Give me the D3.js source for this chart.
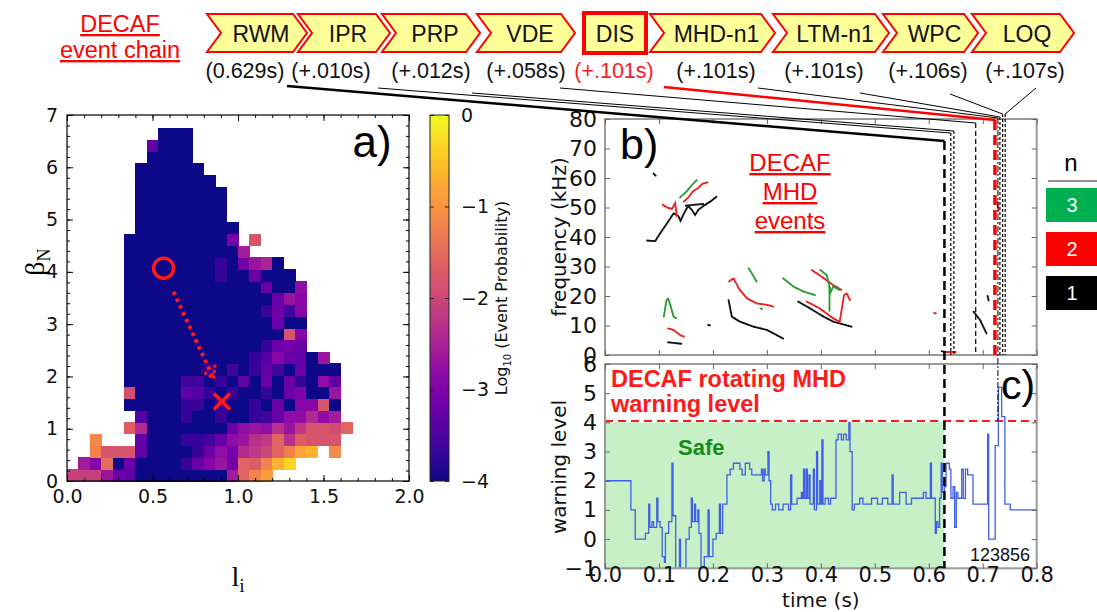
<!DOCTYPE html>
<html><head><meta charset="utf-8">
<script src="https://cdn.jsdelivr.net/npm/d3@7"></script>
<style>body{margin:0;background:#fff}svg{display:block}</style>
</head><body>
<svg id="c" width="1097" height="612"></svg>
<script>
// ======================= DATA =======================
const chainEvents = ["RWM","IPR","PRP","VDE","DIS","MHD-n1","LTM-n1","WPC","LOQ"];
const chainLabels = ["(0.629s)","(+.010s)","(+.012s)","(+.058s)","(+.101s)","(+.101s)","(+.101s)","(+.106s)","(+.107s)"];
const chainTimes  = [0.629,0.639,0.641,0.687,0.730,0.730,0.730,0.735,0.736];

const liTicks   = [0.0,0.5,1.0,1.5,2.0];
const betaTicks = [0,1,2,3,4,5,6,7];
const cbTicks   = [0,-1,-2,-3,-4];
const liBin = 1/15, betaBin = 0.225;
// log10(event probability) per (beta_N row, l_i column); row 0 = bottom. [firstColumn, values]
const heatRows = [
 [0,[-2.1,-2.1,-2.1,-2.7,-3.2,-3.3,-4,-4,-4,-4,-4,-4,-4,-4,-2.6,-1.6,-1.2,-0.9]],
 [1,[-2.6,-2.9,-1.5,-4,-3.2,-4,-4,-4,-4,-3.7,-3.2,-2.9,-2.7,-3.1,-1.6,-1.7,-1.2,-0.7,-0.35]],
 [2,[-1.2,-1.8,-1.8,-1.8,-3.3,-4,-4,-4,-4,-3.7,-3.2,-2.8,-3.1,-2.4,-2.2,-2.0,-1.6,-1.25,-0.85,-0.7,null,-1.1]],
 [2,[-1.15,null,null,null,-3.3,-4,-4,-4,-3.7,-3.7,-3.6,-3.2,-2.8,-2.7,-2.3,-2.2,-1.6,-2.3,-1.7,-1.8,-1.8,-1.8]],
 [5,[-1.7,-2.4,-4,-4,-4,-4,-4,-4,-4,-3.2,-2.8,-2.7,-2.8,-2.3,-2.7,-2.2,-1.8,-1.8,-1.9,-1.6]],
 [6,[-3.4,-4,-4,-4,-3.7,-4,-4,-3.7,-4,-4,-3.7,-3.6,-3.2,-2.8,-2.8,-2.4,-2.8,-2.6]],
 [5,[-4,-4,-4,-4,-4,-3.7,-3.7,-4,-3.7,-4,-4,-3.7,-4,-3.2,-4,-2.9,-2.9,-1.8,-4]],
 [5,[-1.9,-4,-4,-4,-4,-3.3,-3.4,-3.7,-4,-3.7,-4,-4,-3.7,-4,-3.2,-3.0,-4,-4,-2.7]],
 [5,[-4,-4,-4,-4,-4,-3.6,-3.6,-4,-3.7,-4,-3.3,-4,-3.2,-4,-3.2,-3.7,-4,-2.8,-3.3]],
 [5,[-4,-4,-4,-4,-4,-4,-4,-3.7,-4,-3.6,-4,-3.7,-3.3,-3.6,-4,-3.2,-4,-4,-4]],
 [5,[-4,-4,-4,-4,-4,-4,-4,-4,-4,-4,-4,-3.7,-3.4,-2.9,-3.2,-3.3,-4,-2.7]],
 [5,[-4,-4,-4,-4,-4,-4,-4,-4,-4,-4,-4,-4,-3.7,-3.2,-3.1,-3.2]],
 [5,[-4,-4,-4,-4,-4,-4,-4,-4,-4,-4,-4,-4,-4,-4,-1.8,-2.9]],
 [5,[-4,-4,-4,-4,-4,-4,-4,-4,-4,-4,-4,-4,-4,-3.2,-4,-4]],
 [5,[-4,-4,-4,-4,-4,-4,-4,-4,-4,-4,-4,-4,-3.7,-3.1,-3.6,-2.9]],
 [5,[-4,-4,-4,-4,-4,-4,-4,-4,-4,-4,-4,-4,-4,-3.2,-2.7,-2.9]],
 [5,[-4,-4,-4,-4,-4,-4,-4,-4,-4,-4,-4,-4,-3.2,-4,-4,-2.8]],
 [5,[-4,-4,-4,-4,-4,-4,-4,-4,-3.7,-4,-4,-3.2,-4,-4,-4]],
 [5,[-4,-4,-4,-4,-4,-4,-4,-4,-3.7,-4,-3.1,-2.7,-2.5,-4]],
 [5,[-4,-4,-4,-4,-4,-4,-4,-4,-4,-4,-2.6]],
 [5,[-4,-4,-4,-4,-4,-4,-4,-4,-4,-3.1,null,-1.8]],
 [6,[-4,-4,-4,-4,-4,-4,-4,-4,-4]],
 [6,[-4,-4,-4,-4,-4,-4,-4,-4]],
 [6,[-4,-4,-4,-4,-4,-4,-4,-4]],
 [6,[-4,-4,-4,-4,-4,-4,-4,-4]],
 [6,[-4,-4,-4,-4,-4,-4,-4]],
 [6,[-4,-4,-4,-4,-4,-4]],
 [7,[-4,-4,-4,-4]],
 [7,[-3.3,-4,-4,-4]],
 [8,[-4,-4,-4]]
];
const trajStart = [0.565,4.07], trajEnd = [0.906,1.52];
const arrowFrom = [0.623,3.62], arrowTo = [0.857,1.96];

const timeTicks = [0.0,0.1,0.2,0.3,0.4,0.5,0.6,0.7,0.8];
const freqTicks = [0,10,20,30,40,50,60,70,80];
const warnTicks = [-1,0,1,2,3,4,5,6];
const modeNumbers = ["3","2","1"];
// MHD mode traces [time s, frequency kHz]
const modeN1 = [
 [[0.078,38.8],[0.093,38.6],[0.102,41.2],[0.117,45.2],[0.127,48.0],[0.136,47.1],[0.140,45.5],[0.148,48.6],[0.154,50.5],[0.161,49.2],[0.167,47.5],[0.173,49.2],[0.182,50.5],[0.195,52.0],[0.207,53.7]],
 [[0.150,50.6],[0.165,50.9],[0.182,51.2]],
 [[0.090,61.5],[0.094,60.8]],
 [[0.117,4.3],[0.127,4.1],[0.142,3.8]],
 [[0.191,10.2],[0.195,10.0]],
 [[0.229,18.6],[0.235,13.0],[0.250,11.3],[0.275,9.6],[0.300,8.5],[0.330,5.6]],
 [[0.358,18.1],[0.380,15.8],[0.405,13.0],[0.423,11.3],[0.457,9.6]],
 [[0.683,14.7],[0.695,11.9],[0.707,7.3]],
 [[0.709,20.0],[0.711,18.5]],
 [[0.624,1.3],[0.632,1.0]]
];
const modeN2 = [
 [[0.107,50.9],[0.115,50.0],[0.124,49.5],[0.130,51.5],[0.133,47.0]],
 [[0.146,52.0],[0.155,53.5],[0.163,55.5],[0.172,56.5],[0.180,58.0],[0.190,58.5]],
 [[0.117,9.0],[0.127,8.5],[0.139,6.8],[0.146,6.2]],
 [[0.230,24.9],[0.238,26.0],[0.250,22.0],[0.263,19.2],[0.281,17.5],[0.300,17.0],[0.312,16.4]],
 [[0.374,18.1],[0.398,15.8],[0.423,12.4],[0.435,11.3]],
 [[0.383,28.8],[0.401,26.6],[0.423,23.7],[0.439,22.0]],
 [[0.435,11.3],[0.443,20.3],[0.448,20.9],[0.454,18.6]],
 [[0.610,14.3],[0.613,14.1]],
 [[0.628,1.0],[0.650,1.0]],
 [[0.727,52.0],[0.729,49.0]]
];
const modeN3 = [
 [[0.139,53.4],[0.151,55.4],[0.161,57.6],[0.170,59.3]],
 [[0.109,13.0],[0.114,18.6],[0.117,19.2],[0.122,16.4],[0.127,13.0],[0.133,12.4]],
 [[0.266,29.4],[0.272,27.7],[0.281,24.9]],
 [[0.330,26.0],[0.349,23.2],[0.368,21.5],[0.389,20.3]],
 [[0.399,28.8],[0.411,27.1],[0.416,23.2],[0.417,20.9],[0.423,23.2],[0.435,22.0]],
 [[0.416,23.0],[0.416,15.0]],
 [[0.288,15.8],[0.291,15.6]],
 [[0.728,57.5],[0.730,57.0]]
];
const warnTime  = [0,0.048,0.056,0.075,0.081,0.083,0.087,0.090,0.096,0.098,0.102,0.106,0.110,0.112,0.118,0.124,0.126,0.131,0.138,0.140,0.150,0.156,0.160,0.162,0.166,0.168,0.172,0.174,0.178,0.184,0.191,0.193,0.200,0.206,0.212,0.214,0.218,0.226,0.232,0.238,0.250,0.254,0.260,0.268,0.272,0.290,0.292,0.295,0.297,0.302,0.304,0.307,0.310,0.316,0.322,0.330,0.340,0.344,0.346,0.356,0.364,0.366,0.368,0.370,0.373,0.375,0.378,0.380,0.386,0.388,0.392,0.394,0.398,0.400,0.402,0.404,0.408,0.414,0.418,0.428,0.432,0.438,0.442,0.447,0.452,0.454,0.458,0.462,0.472,0.478,0.494,0.505,0.514,0.524,0.532,0.534,0.546,0.558,0.568,0.590,0.595,0.603,0.605,0.612,0.614,0.617,0.620,0.623,0.625,0.629,0.632,0.638,0.641,0.645,0.648,0.651,0.654,0.661,0.664,0.668,0.672,0.682,0.709,0.711,0.723,0.729,0.735,0.741,0.751,0.800];
const warnLevel = [2.0,1.0,0.0,0.2,1.2,0.4,0.6,0.4,1.4,0.6,0.4,-0.6,-0.8,0.2,0.6,2.6,0.8,-1.0,0.0,-1.0,0.0,0.4,1.4,0.6,1.2,0.6,1.0,0.2,-1.0,-0.6,1.0,-0.6,0.0,0.2,1.2,0.2,1.2,2.2,2.4,2.6,2.4,2.2,2.6,2.4,2.2,2.4,2.0,2.4,2.2,3.0,2.0,1.2,1.0,1.2,1.0,1.2,1.0,2.2,1.2,1.4,1.6,1.4,2.4,1.4,2.4,1.4,2.2,1.2,2.4,1.0,3.0,1.2,2.0,1.2,3.4,1.2,1.4,1.2,1.4,3.4,3.6,3.4,3.6,3.4,4.0,3.0,1.0,1.2,1.4,1.2,1.4,1.2,1.4,1.2,2.2,1.2,1.6,1.2,1.4,1.6,1.4,2.6,1.4,0.2,0.6,0.4,1.4,2.6,1.6,1.8,2.6,2.4,1.4,1.8,0.4,1.6,1.4,2.4,1.4,2.4,2.2,1.2,3.6,0.0,3.2,5.2,4.2,1.2,1.0,1.0];
const warnThreshold = 4.05;
const safeUntil = 0.629;
const shotNumber = "123856";

// ======================= LAYOUT =======================
const svg = d3.select("#c");
const AX = "DejaVu Sans", AR = "Liberation Sans, Arial, sans-serif";
const minus = d => (d < 0 ? "\u2212" + Math.abs(d) : String(d));
const defs = svg.append("defs");

// ---------- Panel a ----------
const xA = d3.scaleLinear().domain([0,2]).range([67,409]);
const yA = d3.scaleLinear().domain([0,7]).range([481,115]);
const cbScale = d3.scaleLinear().domain([-4,0]).range([0,1]);
const colorOf = v => d3.interpolatePlasma(cbScale(v));

const cells = [];
heatRows.forEach(([start, vals], r) => vals.forEach((v,i) => { if (v !== null) cells.push({r, c:start+i, v}); }));
const gA = svg.append("g");
gA.selectAll("rect.cell").data(cells).join("rect")
  .attr("x", d => xA(d.c*liBin)).attr("y", d => yA((d.r+1)*betaBin))
  .attr("width", d => xA((d.c+1)*liBin) - xA(d.c*liBin) + 0.5)
  .attr("height", d => yA(d.r*betaBin) - yA((d.r+1)*betaBin) + 0.5)
  .attr("fill", d => colorOf(d.v)).attr("shape-rendering","crispEdges");

function styleAxis(g, color, fs, font) {
  g.select(".domain").remove();
  g.selectAll("line").attr("stroke", color).attr("stroke-width", 1);
  g.selectAll("text").attr("font-family", font).attr("font-size", fs).attr("fill", "#111");
}
const liMinor = d3.range(0, 2.0001, 0.1), betaMinor = d3.range(0, 7.0001, 0.2);
[[d3.axisBottom, 481, true],[d3.axisTop, 115, false]].forEach(([fn, y, lab]) => {
  gA.append("g").attr("transform",`translate(0,${y})`).call(fn(xA).tickValues(liMinor).tickSize(-3).tickFormat("")).call(g=>styleAxis(g,"#000",19,AX));
  gA.append("g").attr("transform",`translate(0,${y})`).call(fn(xA).tickValues(liTicks).tickSize(-6).tickPadding(9).tickFormat(lab ? d3.format(".1f") : "")).call(g=>styleAxis(g,"#000",19,AX));
});
[[d3.axisLeft, 67, true],[d3.axisRight, 409, false]].forEach(([fn, x, lab]) => {
  gA.append("g").attr("transform",`translate(${x},0)`).call(fn(yA).tickValues(betaMinor).tickSize(-3).tickFormat("")).call(g=>styleAxis(g,"#000",19,AX));
  gA.append("g").attr("transform",`translate(${x},0)`).call(fn(yA).tickValues(betaTicks).tickSize(-6).tickPadding(9).tickFormat(lab ? d3.format("d") : "")).call(g=>styleAxis(g,"#000",19,AX));
});
gA.append("rect").attr("x",67).attr("y",115).attr("width",342).attr("height",366).attr("fill","none").attr("stroke","#000").attr("stroke-width",1.2);

// markers
gA.append("circle").attr("cx", xA(trajStart[0])).attr("cy", yA(trajStart[1])).attr("r", 10)
  .attr("fill","none").attr("stroke","#ff1a1a").attr("stroke-width",3.5);
const xc = xA(trajEnd[0]), yc = yA(trajEnd[1]);
gA.append("path").attr("d",`M${xc-8},${yc-8}L${xc+8},${yc+8}M${xc-8},${yc+8}L${xc+8},${yc-8}`)
  .attr("stroke","#ff1a1a").attr("stroke-width",3.5);
const ax0 = xA(arrowFrom[0]), ay0 = yA(arrowFrom[1]), ax1 = xA(arrowTo[0]), ay1 = yA(arrowTo[1]);
gA.append("line").attr("x1",ax0).attr("y1",ay0).attr("x2",ax1).attr("y2",ay1)
  .attr("stroke","#ff1a1a").attr("stroke-width",4).attr("stroke-dasharray","3.5,4");
const ang = Math.atan2(ay1-ay0, ax1-ax0);
const wing = s => [ax1 - 14*Math.cos(ang + s*0.55), ay1 - 14*Math.sin(ang + s*0.55)];
const w1 = wing(1), w2 = wing(-1);
gA.append("path").attr("d",`M${w1[0]},${w1[1]}L${ax1},${ay1}L${w2[0]},${w2[1]}`)
  .attr("fill","none").attr("stroke","#ff1a1a").attr("stroke-width",3).attr("stroke-dasharray","3,2.5");

gA.append("text").attr("x",372).attr("y",157).attr("text-anchor","middle").attr("font-family",AR).attr("font-size",44).text("a)");
// axis labels
const xl = gA.append("text").attr("x",238).attr("y",586).attr("text-anchor","middle").attr("font-family","Liberation Serif, serif").attr("font-size",28);
xl.append("tspan").text("l");
xl.append("tspan").attr("font-size",18).attr("dy",6).text("i");
const yl = gA.append("text").attr("transform","translate(44,262) rotate(-90)").attr("text-anchor","middle").attr("font-family","Liberation Serif, serif").attr("font-size",28);
yl.append("tspan").text("\u03b2");
yl.append("tspan").attr("font-size",18).attr("dy",6).text("N");

// colorbar
const cbY = d3.scaleLinear().domain([-4,0]).range([481,115]);
const grad = defs.append("linearGradient").attr("id","plasma").attr("x1",0).attr("y1",1).attr("x2",0).attr("y2",0);
d3.range(0,1.0001,0.05).forEach(t => grad.append("stop").attr("offset",t).attr("stop-color",d3.interpolatePlasma(t)));
gA.append("rect").attr("x",430).attr("y",115).attr("width",19).attr("height",366).attr("fill","url(#plasma)").attr("stroke","#222").attr("stroke-width",1);
gA.append("g").attr("transform","translate(449,0)").call(d3.axisRight(cbY).tickValues(cbTicks).tickSize(-4).tickPadding(12).tickFormat(minus)).call(g=>styleAxis(g,"#222",19,AX));
gA.append("g").attr("transform","translate(430,0)").call(d3.axisLeft(cbY).tickValues(cbTicks).tickSize(-4).tickFormat("")).call(g=>styleAxis(g,"#222",19,AX));
const cbl = gA.append("text").attr("transform","translate(507,298) rotate(-90)").attr("text-anchor","middle").attr("font-family",AX).attr("font-size",16).attr("fill","#111");
cbl.append("tspan").text("Log");
cbl.append("tspan").attr("font-size",10).attr("dy",4).text("10");
cbl.append("tspan").attr("dy",-4).text(" (Event Probability)");

// ---------- Panel b ----------
const xB = d3.scaleLinear().domain([0,0.8]).range([605,1036.7]);
const yB = d3.scaleLinear().domain([0,80]).range([355,119]);
const yC = d3.scaleLinear().domain([-1,6]).range([568.3,364]);
const gB = svg.append("g");
defs.append("clipPath").attr("id","clipB").append("rect").attr("x",605).attr("y",119).attr("width",431.7).attr("height",236);
defs.append("clipPath").attr("id","clipC").append("rect").attr("x",605).attr("y",364).attr("width",431.7).attr("height",204.3);

const lineB = d3.line().x(d => xB(d[0])).y(d => yB(d[1]));
const traces = gB.append("g").attr("clip-path","url(#clipB)");
[[modeN1,"#111"],[modeN2,"#ee2020"],[modeN3,"#2b9a35"]].forEach(([set,col]) => {
  traces.selectAll(null).data(set).join("path").attr("d", lineB)
    .attr("fill","none").attr("stroke",col).attr("stroke-width",1.9).attr("stroke-dasharray","2,0.8").attr("stroke-linecap","round");
});
gB.append("rect").attr("x",605).attr("y",119).attr("width",431.7).attr("height",236).attr("fill","none").attr("stroke","#9a9a9a").attr("stroke-width",2);
gB.append("g").attr("transform","translate(605,0)").call(d3.axisLeft(yB).tickValues(freqTicks).tickSize(-5).tickPadding(8)).call(g=>styleAxis(g,"#666",22,AX));
gB.append("g").attr("transform","translate(1036.7,0)").call(d3.axisRight(yB).tickValues(freqTicks).tickSize(-5).tickFormat("")).call(g=>styleAxis(g,"#666",22,AX));
gB.append("g").attr("transform","translate(0,355)").call(d3.axisBottom(xB).tickValues(timeTicks).tickSize(-5).tickFormat("")).call(g=>styleAxis(g,"#666",22,AX));
gB.append("g").attr("transform","translate(0,119)").call(d3.axisTop(xB).tickValues(timeTicks).tickSize(-5).tickFormat("")).call(g=>styleAxis(g,"#666",22,AX));
gB.append("text").attr("transform","translate(566,237) rotate(-90)").attr("text-anchor","middle").attr("font-family",AX).attr("font-size",20).attr("fill","#111").text("frequency (kHz)");
gB.append("text").attr("x",620).attr("y",159).attr("font-family",AR).attr("font-size",43).text("b)");
["DECAF","MHD","events"].forEach((s,i) => gB.append("text").attr("x",790).attr("y",171+i*29).attr("text-anchor","middle")
  .attr("font-family",AR).attr("font-size",24).attr("fill","#ff0000").attr("text-decoration","underline").text(s));

// ---------- Panel c ----------
const gC = svg.append("g");
gC.append("rect").attr("x",xB(0)).attr("y",yC(4)).attr("width",xB(safeUntil)-xB(0)).attr("height",yC(-1)-yC(4)).attr("fill","#c7f0c7");
gC.append("line").attr("x1",xB(0)).attr("x2",xB(0.8)).attr("y1",yC(warnThreshold)).attr("y2",yC(warnThreshold))
  .attr("stroke","#ff1a1a").attr("stroke-width",2).attr("stroke-dasharray","8,5");
const lineC = d3.line().x(d => xB(d[0])).y(d => yC(d[1])).curve(d3.curveStepAfter);
gC.append("g").attr("clip-path","url(#clipC)").append("path").attr("d", lineC(warnTime.map((t,i)=>[t,warnLevel[i]])))
  .attr("fill","none").attr("stroke","#3f5fe6").attr("stroke-width",1.3);
gC.append("rect").attr("x",605).attr("y",364).attr("width",431.7).attr("height",204.3).attr("fill","none").attr("stroke","#9a9a9a").attr("stroke-width",2);
gC.append("g").attr("transform","translate(605,0)").call(d3.axisLeft(yC).tickValues(warnTicks).tickSize(-5).tickPadding(8).tickFormat(minus)).call(g=>styleAxis(g,"#666",22,AX));
gC.append("g").attr("transform","translate(1036.7,0)").call(d3.axisRight(yC).tickValues(warnTicks).tickSize(-5).tickFormat("")).call(g=>styleAxis(g,"#666",22,AX));
gC.append("g").attr("transform","translate(0,568.3)").call(d3.axisBottom(xB).tickValues(timeTicks).tickSize(-5).tickPadding(-1).tickFormat(d3.format(".1f"))).call(g=>styleAxis(g,"#666",21,AX));
gC.append("g").attr("transform","translate(0,364)").call(d3.axisTop(xB).tickValues(timeTicks).tickSize(-5).tickFormat("")).call(g=>styleAxis(g,"#666",22,AX));
gC.append("text").attr("transform","translate(566,467) rotate(-90)").attr("text-anchor","middle").attr("font-family",AX).attr("font-size",20).attr("fill","#111").text("warning level");
gC.append("text").attr("x",xB(0.4)).attr("y",607).attr("text-anchor","middle").attr("font-family",AX).attr("font-size",20).attr("fill","#111").text("time (s)");
gC.append("text").attr("x",611).attr("y",387).attr("font-family",AR).attr("font-weight","bold").attr("font-size",23.5).attr("fill","#ff1a1a").text("DECAF rotating MHD");
gC.append("text").attr("x",611).attr("y",412).attr("font-family",AR).attr("font-weight","bold").attr("font-size",23.5).attr("fill","#ff1a1a").text("warning level");
gC.append("text").attr("x",678).attr("y",455).attr("font-family",AR).attr("font-weight","bold").attr("font-size",22).attr("fill","#178a17").text("Safe");
gC.append("text").attr("x",1030).attr("y",561).attr("text-anchor","end").attr("font-family",AR).attr("font-size",18).attr("fill","#111").text(shotNumber);
gC.append("text").attr("x",1001).attr("y",399).attr("font-family",AR).attr("font-size",41).text("c)");

// ---------- Legend n ----------
const gL = svg.append("g");
gL.append("text").attr("x",1071).attr("y",171).attr("text-anchor","middle").attr("font-family",AR).attr("font-size",24).text("n");
gL.append("line").attr("x1",1048).attr("x2",1097).attr("y1",181).attr("y2",181).attr("stroke","#222").attr("stroke-width",1.2);
const legCol = ["#00b050","#ff0000","#000000"];
modeNumbers.forEach((n,i) => {
  gL.append("rect").attr("x",1046).attr("y",188+i*44).attr("width",51).attr("height",34).attr("fill",legCol[i]);
  gL.append("text").attr("x",1072).attr("y",212+i*44).attr("text-anchor","middle").attr("font-family",AR).attr("font-size",20).attr("fill","#fff").text(n);
});

// ---------- Event chain ----------
const gE = svg.append("g");
["DECAF","event chain"].forEach((s,i) => gE.append("text").attr("x",120).attr("y",32+i*26).attr("text-anchor","middle")
  .attr("font-family",AR).attr("font-size",23.5).attr("fill","#ff0000").attr("text-decoration","underline").text(s));
const boxL = [207,298,382,477,584,650,773,883,972], boxR = [307,390,480,575,646,775,889,978,1074];
const T = 14, B = 52, M = 33, d = 14;
chainEvents.forEach((ev,i) => {
  if (ev === "DIS") {
    gE.append("rect").attr("x",boxL[i]).attr("y",13).attr("width",boxR[i]-boxL[i]).attr("height",40)
      .attr("fill","#ffff99").attr("stroke","#ff0000").attr("stroke-width",4);
  } else {
    const L = boxL[i], R = boxR[i];
    gE.append("path").attr("d",`M${L},${T}L${R-d},${T}L${R},${M}L${R-d},${B}L${L},${B}L${L+d},${M}Z`)
      .attr("fill","#ffff99").attr("stroke","#ff0000").attr("stroke-width",2);
  }
  const cx = ev === "DIS" ? (boxL[i]+boxR[i])/2 : (boxL[i]+boxR[i])/2 + 4;
  gE.append("text").attr("x",cx).attr("y",41.5).attr("text-anchor","middle").attr("font-family",AR).attr("font-size",23).attr("fill","#111").text(ev);
});
const labX = [245,331,431,526,614,716,824,928,1025];
chainLabels.forEach((s,i) => gE.append("text").attr("x",labX[i]).attr("y",78).attr("text-anchor","middle")
  .attr("font-family",AR).attr("font-size",21.5).attr("fill", chainEvents[i]==="DIS" ? "#ff1a1a" : "#111").text(s));

// connectors + vertical event lines
const connX0 = [287,378,472,560,664,758,860,950,1036], connY0 = [86,88,93,88,87,88,93,94,88];
const connY1 = [141,133,131,123,120,118,117,114,114];
const nudge = [0,1,3,0,-4,-1,1,1,3];
const evStyle = [
  {col:"#000", cw:2.5, vw:2.5, dash:"9,5",   bottom:yC(-1)},
  {col:"#000", cw:1,   vw:1.2, dash:"3,2",   bottom:355},
  {col:"#000", cw:1,   vw:1.2, dash:"3,2",   bottom:355},
  {col:"#000", cw:1,   vw:1.2, dash:"5,3",   bottom:355},
  {col:"#ff0000", cw:2.5, vw:3.5, dash:"10,5", bottom:355},
  {col:"#000", cw:1,   vw:1,   dash:"6,2,2,2", bottom:yC(warnThreshold)},
  {col:"#000", cw:1,   vw:1.2, dash:"3,2",   bottom:355},
  {col:"#000", cw:1,   vw:1.2, dash:"3,2",   bottom:355},
  {col:"#000", cw:1,   vw:1.2, dash:"3,2",   bottom:355}
];
chainTimes.forEach((t,i) => {
  const x = xB(t) + nudge[i], s = evStyle[i];
  gE.append("line").attr("x1",connX0[i]).attr("y1",connY0[i]).attr("x2",x).attr("y2",connY1[i])
    .attr("stroke",s.col).attr("stroke-width",s.cw);
  gE.append("line").attr("x1",x).attr("x2",x).attr("y1",connY1[i]).attr("y2",s.bottom)
    .attr("stroke",s.col).attr("stroke-width",s.vw).attr("stroke-dasharray",s.dash);
});
</script>
</body></html>
